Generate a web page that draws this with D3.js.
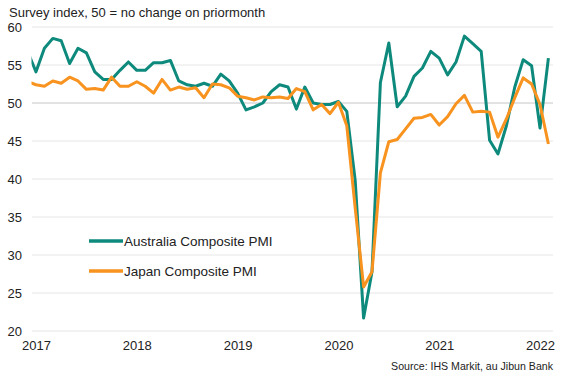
<!DOCTYPE html>
<html>
<head>
<meta charset="utf-8">
<script src="https://cdn.jsdelivr.net/npm/d3@7/dist/d3.min.js"></script>
<style>
  html, body { margin: 0; padding: 0; background: #ffffff; }
  svg { display: block; font-family: "Liberation Sans", Arial, sans-serif; }
</style>
</head>
<body>
<svg id="chart" width="570" height="381"></svg>
<script>
// ---- Data ----
const months = [
  "2016-12",
  "2017-01","2017-02","2017-03","2017-04","2017-05","2017-06","2017-07","2017-08","2017-09","2017-10","2017-11","2017-12",
  "2018-01","2018-02","2018-03","2018-04","2018-05","2018-06","2018-07","2018-08","2018-09","2018-10","2018-11","2018-12",
  "2019-01","2019-02","2019-03","2019-04","2019-05","2019-06","2019-07","2019-08","2019-09","2019-10","2019-11","2019-12",
  "2020-01","2020-02","2020-03","2020-04","2020-05","2020-06","2020-07","2020-08","2020-09","2020-10","2020-11","2020-12",
  "2021-01","2021-02","2021-03","2021-04","2021-05","2021-06","2021-07","2021-08","2021-09","2021-10","2021-11","2021-12",
  "2022-01","2022-02"
];
const australia = [
  56.8,
  54.1, 57.2, 58.5, 58.2, 55.2, 57.2, 56.6, 54.1, 53.1, 53.1, 54.3, 55.4,
  54.3, 54.3, 55.3, 55.3, 55.6, 52.9, 52.4, 52.2, 52.6, 52.2, 53.8, 52.9,
  51.3, 49.1, 49.5, 50.0, 51.5, 52.4, 52.1, 49.2, 52.1, 50.0, 49.8, 49.8,
  50.2, 48.9, 39.8, 21.7, 27.8, 52.7, 57.9, 49.5, 50.9, 53.5, 54.6, 56.8,
  55.9, 53.7, 55.4, 58.8, 57.8, 56.8, 45.1, 43.3, 47.0, 52.1, 55.7, 54.9,
  46.7, 55.9
];
const japan = [
  52.8,
  52.4, 52.2, 52.9, 52.6, 53.4, 52.9, 51.8, 51.9, 51.7, 53.4, 52.2, 52.2,
  52.8, 52.2, 51.3, 53.1, 51.7, 52.1, 51.8, 52.0, 50.7, 52.5, 52.4, 52.0,
  50.9, 50.7, 50.4, 50.8, 50.7, 50.8, 50.6, 51.9, 51.5, 49.1, 49.8, 48.6,
  50.1, 47.0, 36.2, 25.8, 27.8, 40.8, 44.9, 45.2, 46.6, 48.0, 48.1, 48.5,
  47.1, 48.2, 49.9, 51.0, 48.8, 48.9, 48.8, 45.5, 47.9, 50.7, 53.3, 52.5,
  49.8, 44.6
];
const yTicks = [20, 25, 30, 35, 40, 45, 50, 55, 60];
const xTickMonths = ["2017-01","2018-01","2019-01","2020-01","2021-01","2022-01"];
const xTickLabels = ["2017","2018","2019","2020","2021","2022"];
const seriesNames = ["Australia Composite PMI", "Japan Composite PMI"];
const seriesColors = ["#0E8A7D", "#F7931E"];
const titleText = "Survey index, 50 = no change on priormonth";
const sourceText = "Source: IHS Markit, au Jibun Bank";

// ---- Layout ----
const svg = d3.select("#chart");
const plotLeft = 32, plotRight = 553;

const x = d3.scalePoint().domain(months).range([27.6, 548.4]);
const y = d3.scaleLinear().domain([20, 60]).range([331, 27]);

// Gridlines
svg.append("g").selectAll("line")
  .data(yTicks)
  .join("line")
  .attr("x1", plotLeft).attr("x2", plotRight)
  .attr("y1", d => y(d)).attr("y2", d => y(d))
  .attr("stroke", d => d === 50 ? "#c6c6c6" : "#e6e6e6")
  .attr("stroke-width", 1);

// Y axis labels (via d3 axis)
const yAxis = d3.axisLeft(y).tickValues(yTicks).tickSize(0).tickPadding(0);
const yg = svg.append("g").attr("transform", "translate(22,0)").call(yAxis);
yg.select(".domain").remove();
yg.selectAll("text")
  .attr("font-size", 13)
  .attr("font-family", "Liberation Sans, Arial, sans-serif")
  .attr("fill", "#222");

// X axis labels (via d3 axis)
const labelMap = new Map(xTickMonths.map((m, i) => [m, xTickLabels[i]]));
const xAxis = d3.axisBottom(x).tickValues(xTickMonths).tickFormat(d => labelMap.get(d)).tickSize(0).tickPadding(0);
const xg = svg.append("g").attr("transform", "translate(0,341)").call(xAxis);
xg.select(".domain").remove();
xg.selectAll("text")
  .attr("font-size", 13)
  .attr("font-family", "Liberation Sans, Arial, sans-serif")
  .attr("fill", "#222");

// Clip
svg.append("defs").append("clipPath").attr("id", "plotclip")
  .append("rect").attr("x", plotLeft - 0.5).attr("y", 0).attr("width", 560 - plotLeft).attr("height", 381);

const line = d3.line().x((d, i) => x(months[i])).y(d => y(d));
const series = [australia, japan];
svg.append("g").attr("clip-path", "url(#plotclip)")
  .selectAll("path")
  .data(series)
  .join("path")
  .attr("d", d => line(d))
  .attr("fill", "none")
  .attr("stroke", (d, i) => seriesColors[i])
  .attr("stroke-width", 3)
  .attr("stroke-linejoin", "round")
  .attr("stroke-linecap", "butt");

// Legend
const legend = svg.append("g");
seriesNames.forEach((name, i) => {
  const ly = 241 + i * 30;
  legend.append("line")
    .attr("x1", 89).attr("x2", 123).attr("y1", ly).attr("y2", ly)
    .attr("stroke", seriesColors[i]).attr("stroke-width", 3.5);
  legend.append("text")
    .attr("x", 124).attr("y", ly).attr("dy", "0.36em")
    .attr("font-size", 13.5).attr("fill", "#222")
    .text(name);
});

// Title
svg.append("text").attr("x", 9).attr("y", 16.5)
  .attr("font-size", 13).attr("fill", "#222").text(titleText);

// Source
svg.append("text").attr("x", 553).attr("y", 370)
  .attr("text-anchor", "end")
  .attr("font-size", 10.6).attr("fill", "#222").text(sourceText);
</script>
</body>
</html>
